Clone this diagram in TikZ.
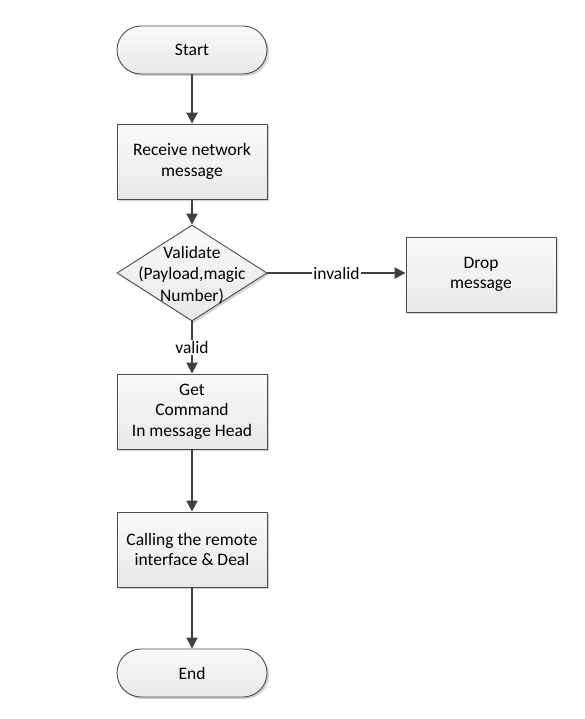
\documentclass[tikz,border=0pt]{standalone}
\usepackage{fontspec}
\setmainfont{Carlito}
\usetikzlibrary{arrows.meta,shapes.geometric,shadows}
\definecolor{linec}{HTML}{404040}
\definecolor{edgec}{HTML}{4D4D4D}
\begin{document}
\begin{tikzpicture}[x=1pt,y=-1pt,
  font=\fontsize{17.5}{20.5}\selectfont,
  boxshape/.style={draw=edgec, line width=0.9pt, top color=black!2, bottom color=black!9,
    drop shadow={shadow xshift=2pt, shadow yshift=-2pt, fill=black!30, opacity=0.6},
    minimum width=150pt, minimum height=75pt, align=center, inner sep=2pt},
  termshape/.style={boxshape, rounded corners=24pt, minimum height=48pt},
  decshape/.style={diamond, draw=edgec, line width=0.9pt, top color=black!2, bottom color=black!9,
    drop shadow={shadow xshift=2pt, shadow yshift=-2pt, fill=black!30, opacity=0.6},
    minimum width=150pt, minimum height=96pt, inner sep=0pt},
  flow/.style={draw=linec, line width=2pt, -{Triangle[length=11pt,width=11pt]}},
  lbl/.style={fill=white, inner sep=1pt}
]
\useasboundingbox (0,0) rectangle (585,719);
\node[termshape] (start) at (192,50) {Start};
\node[boxshape] (recv) at (192,161.5) {Receive network\\message};
\node[decshape] (val) at (192,273) {};
\node[align=center, font=\fontsize{17.5}{21.5}\selectfont] (valtxt) at (192,275) {Validate\\(Payload,magic\\Number)};
\node[boxshape] (drop) at (481,274.5) {Drop\\message};
\node[boxshape] (get) at (192,411.5) {Get\\Command\\In message Head};
\node[boxshape] (call) at (192,549.5) {Calling the remote\\interface \& Deal};
\node[termshape] (end) at (192,673) {End};

\draw[flow] (start) -- (recv);
\draw[flow] (recv) -- (val);
\draw[flow] (val.east) -- (val.east -| drop.west) node[lbl, pos=0.5] {invalid};
\draw[flow] (val) -- (get) node[lbl, pos=0.5] {valid};
\draw[flow] (get) -- (call);
\draw[flow] (call) -- (end);
\end{tikzpicture}
\end{document}
